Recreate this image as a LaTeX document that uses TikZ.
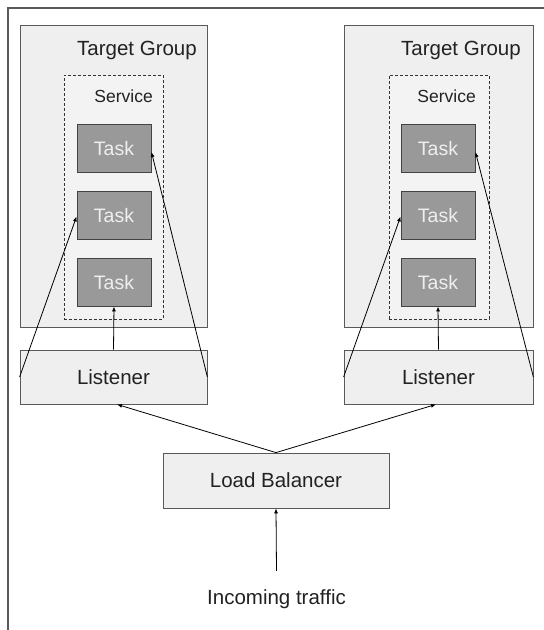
\documentclass[tikz,border=0pt]{standalone}
\usepackage{fontspec}
\setmainfont{Liberation Sans}
\usetikzlibrary{arrows.meta,calc}
\definecolor{boxfill}{HTML}{EFEFEF}
\definecolor{svcfill}{HTML}{F3F3F3}
\definecolor{boxline}{HTML}{595959}
\definecolor{taskfill}{HTML}{999999}
\definecolor{taskline}{HTML}{434343}
\definecolor{txt}{HTML}{222222}
\tikzset{
  grp/.style={draw=boxline, fill=boxfill, line width=0.8pt, inner sep=0pt, rectangle},
  svc/.style={draw=black!80, fill=svcfill, dashed, dash pattern=on 3pt off 2pt, line width=0.8pt, inner sep=0pt, rectangle},
  taskbox/.style={draw=taskline, fill=taskfill, line width=0.9pt, minimum width=74pt, minimum height=48pt, inner sep=0pt,
    text=boxfill, font=\fontsize{19.5pt}{20pt}\selectfont, text height=14pt, text depth=0pt},
  lbox/.style={draw=boxline, fill=boxfill, line width=0.8pt, inner sep=0pt, text=txt,
    font=\fontsize{20.5pt}{22pt}\selectfont, text height=14.7pt, text depth=0pt},
  lbl/.style={text=txt, inner sep=0pt, font=\fontsize{20.5pt}{22pt}\selectfont},
  slbl/.style={text=txt, inner sep=0pt, font=\fontsize{17.5pt}{19pt}\selectfont},
  arr/.style={-{Latex[length=5pt,width=4pt]}, line width=0.8pt, black},
}
\begin{document}
\begin{tikzpicture}[x=1pt,y=-1pt]
\useasboundingbox (0,0) rectangle (544,630);
\fill[white] (0,0) rectangle (544,630);
\draw[boxline, line width=2pt] (7.5,630) -- (7.5,7.5) -- (544,7.5);

% Left target group
\node[grp, minimum width=187pt, minimum height=302pt] (tgL) at (113.5,176) {};
\node[lbl, anchor=base east] (tgLt) at (197,55) {Target Group};
\node[svc, minimum width=99pt, minimum height=244pt] (svcL) at (113.5,197) {};
\node[slbl, anchor=base east] (svcLt) at (153,102) {Service};
\node[taskbox] (tL1) at (114,148) {Task};
\node[taskbox] (tL2) at (114,215.5) {Task};
\node[taskbox] (tL3) at (114,282) {Task};
\node[lbox, minimum width=187pt, minimum height=54pt] (lisL) at (113.5,377) {Listener};

% Right target group
\node[grp, minimum width=189pt, minimum height=302pt] (tgR) at (438.5,176) {};
\node[lbl, anchor=base east] (tgRt) at (521,55) {Target Group};
\node[svc, minimum width=100pt, minimum height=244pt] (svcR) at (439,197) {};
\node[slbl, anchor=base east] (svcRt) at (476,102) {Service};
\node[taskbox] (tR1) at (438,148) {Task};
\node[taskbox] (tR2) at (438,215.5) {Task};
\node[taskbox] (tR3) at (438,282) {Task};
\node[lbox, minimum width=189pt, minimum height=54pt] (lisR) at (438.5,377) {Listener};

% Load balancer and traffic
\node[lbox, minimum width=226pt, minimum height=55pt] (lb) at (276,480.5) {Load Balancer};
\node[lbl, text height=15pt, text depth=0pt, inner ysep=18pt] (in) at (276.5,596.5) {Incoming traffic};

% Arrows
\draw[arr] (in.north) -- (lb.south);
\draw[arr] (lb.north) -- ($(lisL.south)+(3.5,0)$);
\draw[arr] (lb.north) -- ($(lisR.south)+(-2.5,0)$);

\draw[arr] (lisL.north) -- (tL3.south);
\draw[arr] (lisL.west) -- ($(tL2.west)+(0,1)$);
\draw[arr] (lisL.east) -- ($(tL1.east)+(0,4)$);

\draw[arr] (lisR.north) -- (tR3.south);
\draw[arr] (lisR.west) -- ($(tR2.west)+(0,1)$);
\draw[arr] (lisR.east) -- ($(tR1.east)+(0,4)$);
\end{tikzpicture}
\end{document}
